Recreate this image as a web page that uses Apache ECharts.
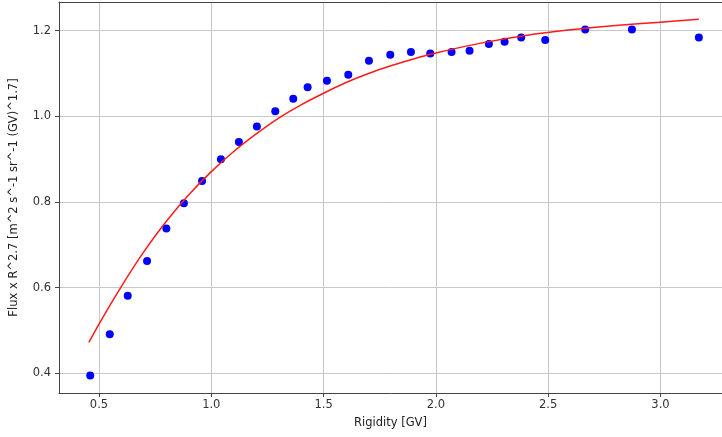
<!DOCTYPE html>
<html>
<head>
<meta charset="utf-8">
<script src="https://cdn.jsdelivr.net/npm/echarts@6/dist/echarts.min.js"></script>
<style>
  html, body { margin: 0; padding: 0; background: #fff; }
  #chart { width: 722px; height: 437px; }
</style>
</head>
<body>
<div id="chart"></div>
<script>
// measured points
const rigidity = [0.461, 0.548, 0.628, 0.714, 0.800, 0.878, 0.959, 1.043, 1.123, 1.203,
  1.285, 1.365, 1.429, 1.515, 1.610, 1.702, 1.797, 1.889, 1.975, 2.070,
  2.150, 2.236, 2.306, 2.380, 2.487, 2.665, 2.873, 3.171];
const flux = [0.395, 0.491, 0.581, 0.662, 0.738, 0.797, 0.849, 0.900, 0.940, 0.976,
  1.012, 1.041, 1.068, 1.083, 1.097, 1.130, 1.144, 1.150, 1.147, 1.150,
  1.153, 1.169, 1.174, 1.184, 1.178, 1.203, 1.203, 1.184];

// red fit curve
const fitX = [0.455, 0.5, 0.6, 0.7, 0.8, 0.9, 1.0, 1.1, 1.2, 1.3, 1.4, 1.5, 1.6,
  1.7, 1.8, 1.9, 2.0, 2.2, 2.4, 2.6, 2.8, 3.0, 3.171];
const fitY = [0.472, 0.515, 0.603, 0.684, 0.755, 0.817, 0.871, 0.918, 0.959, 0.996,
  1.027, 1.054, 1.079, 1.100, 1.118, 1.134, 1.148, 1.171, 1.189, 1.202, 1.212, 1.220, 1.227];

const xTicks = [0.5, 1.0, 1.5, 2.0, 2.5, 3.0];
const yTicks = [0.4, 0.6, 0.8, 1.0, 1.2];

const chart = echarts.init(document.getElementById('chart'));
const font = 'DejaVu Sans';
const xMin = 0.322, xMax = 3.274;

chart.setOption({
  animation: false,
  backgroundColor: '#fff',
  // no right spine: the original is cut off there
  grid: { left: 59, right: 0, top: 2, bottom: 44 },
  xAxis: [{
    type: 'value',
    min: xMin, max: xMax,
    name: 'Rigidity [GV]',
    nameLocation: 'middle',
    nameGap: 24,
    nameTextStyle: { fontFamily: font, fontSize: 11.5, color: '#222' },
    axisLine: { show: true, onZero: false, lineStyle: { color: '#444' } },
    axisTick: { show: true, inside: false, length: 4, customValues: xTicks, lineStyle: { color: '#444' } },
    axisLabel: {
      customValues: xTicks, margin: 6,
      fontFamily: font, fontSize: 11.5, color: '#333',
      formatter: v => v.toFixed(1)
    },
    splitLine: { show: true, lineStyle: { color: '#c8c8c8', width: 1 } }
  }, {
    // top spine only
    type: 'value', position: 'top',
    min: xMin, max: xMax,
    axisLine: { show: true, onZero: false, lineStyle: { color: '#444' } },
    axisTick: { show: false }, axisLabel: { show: false }, splitLine: { show: false }
  }],
  yAxis: {
    type: 'value',
    min: 0.354, max: 1.267,
    name: 'Flux x R^2.7 [m^2 s^-1 sr^-1 (GV)^1.7]',
    nameLocation: 'middle',
    nameGap: 39,
    nameTextStyle: { fontFamily: font, fontSize: 11.5, color: '#222' },
    axisLine: { show: true, onZero: false, lineStyle: { color: '#444' } },
    axisTick: { show: true, inside: false, length: 4, customValues: yTicks, lineStyle: { color: '#444' } },
    axisLabel: {
      customValues: yTicks, margin: 8,
      fontFamily: font, fontSize: 11.5, color: '#333',
      formatter: v => v.toFixed(1)
    },
    splitLine: { show: true, lineStyle: { color: '#c8c8c8', width: 1 } }
  },
  series: [
    {
      type: 'scatter',
      symbol: 'circle',
      symbolSize: 8,
      itemStyle: { color: '#0000ff', opacity: 1 },
      data: rigidity.map((r, i) => [r, flux[i]]),
      z: 2
    },
    {
      type: 'line',
      showSymbol: false,
      smooth: 0.2,
      lineStyle: { color: '#ff1a1a', width: 1.5 },
      data: fitX.map((x, i) => [x, fitY[i]]),
      z: 3
    }
  ]
});
</script>
</body>
</html>
